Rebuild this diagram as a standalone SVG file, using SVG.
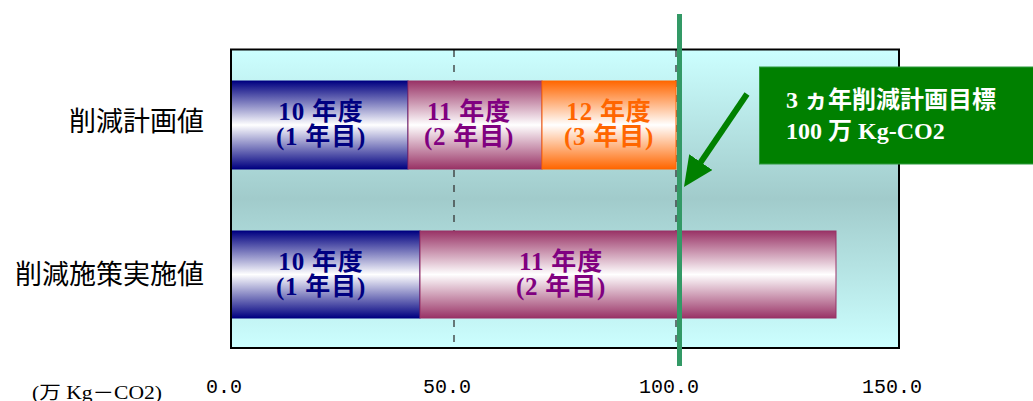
<svg xmlns="http://www.w3.org/2000/svg" width="1033" height="401" viewBox="0 0 1033 401">
<defs>
<linearGradient id="bgGrad" x1="0" y1="0" x2="0" y2="1">
<stop offset="0" stop-color="#ccffff"/>
<stop offset="0.5" stop-color="#a1cbcb"/>
<stop offset="1" stop-color="#ccffff"/>
</linearGradient>
<linearGradient id="gBlue" x1="0" y1="0" x2="0" y2="1">
<stop offset="0" stop-color="#000080"/>
<stop offset="0.5" stop-color="#ffffff"/>
<stop offset="1" stop-color="#000080"/>
</linearGradient>
<linearGradient id="gPlum" x1="0" y1="0" x2="0" y2="1">
<stop offset="0" stop-color="#993366"/>
<stop offset="0.5" stop-color="#ffffff"/>
<stop offset="1" stop-color="#993366"/>
</linearGradient>
<linearGradient id="gOrange" x1="0" y1="0" x2="0" y2="1">
<stop offset="0" stop-color="#ff6600"/>
<stop offset="0.5" stop-color="#ffffff"/>
<stop offset="1" stop-color="#ff6600"/>
</linearGradient>
<marker id="arrowHead" viewBox="0 0 30 28" markerWidth="30" markerHeight="28" refX="10" refY="14" orient="auto" markerUnits="userSpaceOnUse">
<path d="M0,0 L30,14 L0,28 z" fill="#008000"/>
</marker>
<style>
.barLbl{font-family:"Liberation Serif","Noto Sans CJK JP",serif;font-size:25px;font-weight:bold;text-anchor:middle;letter-spacing:0.8px}
.navy{fill:#000080}
.purple{fill:#800080}
.orange{fill:#ff6600}
.rowLbl{font-family:"Noto Sans CJK JP",sans-serif;font-size:27px;fill:#000;text-anchor:end}
.axLbl{font-family:"Liberation Mono",monospace;font-size:20px;fill:#000;text-anchor:middle}
.grid{stroke:#333;stroke-width:1.3;stroke-dasharray:7 8;fill:none}
.callTxt{font-family:"Liberation Serif","Noto Sans CJK JP",serif;font-size:24px;font-weight:bold;fill:#fff}
</style>
</defs>

<g id="plot-area">
<rect x="231" y="49.5" width="668" height="298.5" fill="url(#bgGrad)"/>
<line class="grid" x1="454" y1="50" x2="454" y2="348"/>
<line class="grid" x1="676" y1="50" x2="676" y2="348"/>
</g>

<g id="bar-plan-10">
<rect x="231" y="81" width="177" height="88" fill="url(#gBlue)" stroke="#000080" stroke-width="1"/>
<text class="barLbl navy" x="321" y="120">10 年度</text>
<text class="barLbl navy" x="321" y="145">(1 年目)</text>
</g>
<g id="bar-plan-11">
<rect x="408" y="81" width="134" height="88" fill="url(#gPlum)" stroke="#993366" stroke-width="1"/>
<text class="barLbl purple" x="469" y="120">11 年度</text>
<text class="barLbl purple" x="469" y="145">(2 年目)</text>
</g>
<g id="bar-plan-12">
<rect x="542" y="81" width="134" height="88" fill="url(#gOrange)" stroke="#ff6600" stroke-width="1"/>
<text class="barLbl orange" x="609" y="120">12 年度</text>
<text class="barLbl orange" x="609" y="145">(3 年目)</text>
</g>
<g id="bar-actual-10">
<rect x="231" y="231" width="189" height="87" fill="url(#gBlue)" stroke="#000080" stroke-width="1"/>
<text class="barLbl navy" x="321" y="270">10 年度</text>
<text class="barLbl navy" x="321" y="295">(1 年目)</text>
</g>
<g id="bar-actual-11">
<rect x="420" y="231" width="416" height="87" fill="url(#gPlum)" stroke="#993366" stroke-width="1"/>
<text class="barLbl purple" x="561" y="270">11 年度</text>
<text class="barLbl purple" x="561" y="295">(2 年目)</text>
</g>

<g id="plot-frame">
<rect x="231" y="49.5" width="668" height="298.5" fill="none" stroke="#000" stroke-width="2"/>
</g>

<g id="target-line">
<line x1="679.5" y1="14" x2="679.5" y2="366" stroke="#339966" stroke-width="5"/>
</g>

<g id="connectors">
<line x1="747" y1="94" x2="695.2" y2="170.4" stroke="#008000" stroke-width="6" marker-end="url(#arrowHead)"/>
</g>

<g id="callout-target">
<rect x="759.5" y="67" width="280" height="97" fill="#008000" stroke="#2e9a3e" stroke-width="1"/>
<text class="callTxt" x="786" y="108">3 ヵ年削減計画目標</text>
<text class="callTxt" x="786" y="139">100 万 Kg-CO2</text>
</g>

<g id="row-label-plan">
<text class="rowLbl" x="204" y="131">削減計画値</text>
</g>
<g id="row-label-actual">
<text class="rowLbl" x="204" y="284">削減施策実施値</text>
</g>

<g id="axis-labels">
<text class="axLbl" x="224" y="393">0.0</text>
<text class="axLbl" x="447" y="393">50.0</text>
<text class="axLbl" x="669" y="393">100.0</text>
<text class="axLbl" x="892" y="393">150.0</text>
<text x="32" y="399" font-family="'Liberation Serif','Noto Sans CJK JP',serif" font-size="18" fill="#000" textLength="130" lengthAdjust="spacingAndGlyphs">(万 Kg－CO2)</text>
</g>
</svg>
